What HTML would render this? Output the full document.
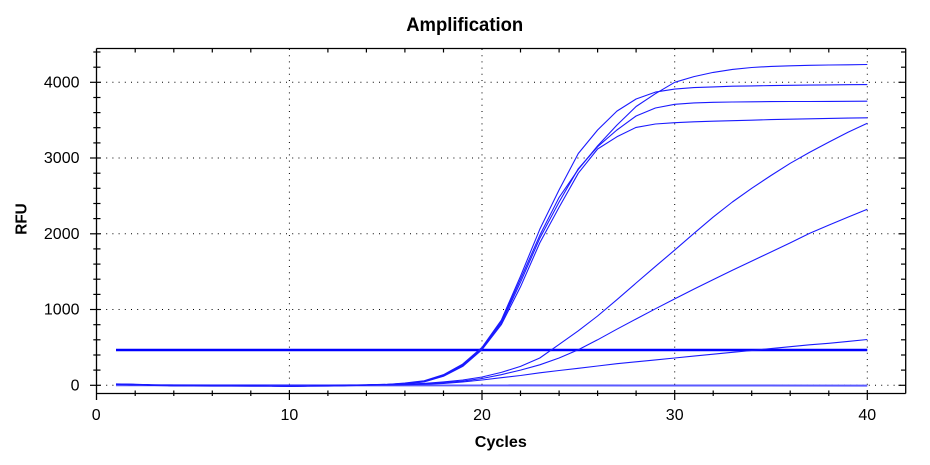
<!DOCTYPE html>
<html>
<head>
<meta charset="utf-8">
<style>
html,body{margin:0;padding:0;background:#fff;}
svg{display:block;}
text{font-family:"Liberation Sans",Arial,sans-serif;fill:#000;}
</style>
</head>
<body>
<svg width="930" height="465" viewBox="0 0 930 465" xmlns="http://www.w3.org/2000/svg">
<rect x="0" y="0" width="930" height="465" fill="#fff"/>

<!-- title -->
<text x="464.7" y="31" font-size="19" font-weight="bold" text-anchor="middle" textLength="117" lengthAdjust="spacingAndGlyphs">Amplification</text>

<!-- grid -->
<g stroke="#000" stroke-width="1" stroke-dasharray="1 5.2" fill="none">
<line x1="289.4" y1="49" x2="289.4" y2="393"/>
<line x1="482" y1="49" x2="482" y2="393"/>
<line x1="674.7" y1="49" x2="674.7" y2="393"/>
<line x1="867.3" y1="49" x2="867.3" y2="393"/>
<line x1="100" y1="385.3" x2="905" y2="385.3"/>
<line x1="100" y1="309.5" x2="905" y2="309.5"/>
<line x1="100" y1="233.8" x2="905" y2="233.8"/>
<line x1="100" y1="158" x2="905" y2="158"/>
<line x1="100" y1="82.3" x2="905" y2="82.3"/>
</g>

<!-- frame -->
<g stroke="#000" stroke-width="1.3" fill="none">
<line x1="96.5" y1="48.5" x2="905.7" y2="48.5"/>
<line x1="905.7" y1="48.5" x2="905.7" y2="393.5"/>
<line x1="96.5" y1="393.5" x2="905.7" y2="393.5"/>
<line x1="96.5" y1="48.5" x2="96.5" y2="400"/>
</g>

<!-- left ticks -->
<g stroke="#000" stroke-width="1.2">
<line x1="90" y1="385.3" x2="100.5" y2="385.3"/>
<line x1="90" y1="309.5" x2="100.5" y2="309.5"/>
<line x1="90" y1="233.8" x2="100.5" y2="233.8"/>
<line x1="90" y1="158" x2="100.5" y2="158"/>
<line x1="90" y1="82.3" x2="100.5" y2="82.3"/>
<line x1="93.3" y1="370.1" x2="100.5" y2="370.1"/>
<line x1="93.3" y1="355" x2="100.5" y2="355"/>
<line x1="93.3" y1="339.8" x2="100.5" y2="339.8"/>
<line x1="93.3" y1="324.7" x2="100.5" y2="324.7"/>
<line x1="93.3" y1="294.4" x2="100.5" y2="294.4"/>
<line x1="93.3" y1="279.2" x2="100.5" y2="279.2"/>
<line x1="93.3" y1="264.1" x2="100.5" y2="264.1"/>
<line x1="93.3" y1="248.9" x2="100.5" y2="248.9"/>
<line x1="93.3" y1="218.6" x2="100.5" y2="218.6"/>
<line x1="93.3" y1="203.5" x2="100.5" y2="203.5"/>
<line x1="93.3" y1="188.3" x2="100.5" y2="188.3"/>
<line x1="93.3" y1="173.2" x2="100.5" y2="173.2"/>
<line x1="93.3" y1="142.9" x2="100.5" y2="142.9"/>
<line x1="93.3" y1="127.7" x2="100.5" y2="127.7"/>
<line x1="93.3" y1="112.6" x2="100.5" y2="112.6"/>
<line x1="93.3" y1="97.5" x2="100.5" y2="97.5"/>
<line x1="93.3" y1="67.2" x2="100.5" y2="67.2"/>
<line x1="93.3" y1="52" x2="100.5" y2="52"/>
</g>

<!-- right ticks -->
<g stroke="#000" stroke-width="1.2">
<line x1="898.5" y1="385.3" x2="905.7" y2="385.3"/>
<line x1="898.5" y1="309.5" x2="905.7" y2="309.5"/>
<line x1="898.5" y1="233.8" x2="905.7" y2="233.8"/>
<line x1="898.5" y1="158" x2="905.7" y2="158"/>
<line x1="898.5" y1="82.3" x2="905.7" y2="82.3"/>
<line x1="901" y1="370.1" x2="905.7" y2="370.1"/>
<line x1="901" y1="355" x2="905.7" y2="355"/>
<line x1="901" y1="339.8" x2="905.7" y2="339.8"/>
<line x1="901" y1="324.7" x2="905.7" y2="324.7"/>
<line x1="901" y1="294.4" x2="905.7" y2="294.4"/>
<line x1="901" y1="279.2" x2="905.7" y2="279.2"/>
<line x1="901" y1="264.1" x2="905.7" y2="264.1"/>
<line x1="901" y1="248.9" x2="905.7" y2="248.9"/>
<line x1="901" y1="218.6" x2="905.7" y2="218.6"/>
<line x1="901" y1="203.5" x2="905.7" y2="203.5"/>
<line x1="901" y1="188.3" x2="905.7" y2="188.3"/>
<line x1="901" y1="173.2" x2="905.7" y2="173.2"/>
<line x1="901" y1="142.9" x2="905.7" y2="142.9"/>
<line x1="901" y1="127.7" x2="905.7" y2="127.7"/>
<line x1="901" y1="112.6" x2="905.7" y2="112.6"/>
<line x1="901" y1="97.5" x2="905.7" y2="97.5"/>
<line x1="901" y1="67.2" x2="905.7" y2="67.2"/>
<line x1="901" y1="52" x2="905.7" y2="52"/>
</g>

<!-- bottom ticks -->
<g stroke="#000" stroke-width="1.2">
<line x1="135.2" y1="390.5" x2="135.2" y2="396"/>
<line x1="173.8" y1="390.5" x2="173.8" y2="396"/>
<line x1="212.3" y1="390.5" x2="212.3" y2="396"/>
<line x1="250.8" y1="390.5" x2="250.8" y2="396"/>
<line x1="289.4" y1="390.5" x2="289.4" y2="400"/>
<line x1="327.9" y1="390.5" x2="327.9" y2="396"/>
<line x1="366.4" y1="390.5" x2="366.4" y2="396"/>
<line x1="404.9" y1="390.5" x2="404.9" y2="396"/>
<line x1="443.5" y1="390.5" x2="443.5" y2="396"/>
<line x1="482" y1="390.5" x2="482" y2="400"/>
<line x1="520.5" y1="390.5" x2="520.5" y2="396"/>
<line x1="559.1" y1="390.5" x2="559.1" y2="396"/>
<line x1="597.6" y1="390.5" x2="597.6" y2="396"/>
<line x1="636.1" y1="390.5" x2="636.1" y2="396"/>
<line x1="674.7" y1="390.5" x2="674.7" y2="400"/>
<line x1="713.2" y1="390.5" x2="713.2" y2="396"/>
<line x1="751.7" y1="390.5" x2="751.7" y2="396"/>
<line x1="790.2" y1="390.5" x2="790.2" y2="396"/>
<line x1="828.8" y1="390.5" x2="828.8" y2="396"/>
<line x1="867.3" y1="390.5" x2="867.3" y2="400"/>
</g>

<!-- top ticks -->
<g stroke="#000" stroke-width="1.2">
<line x1="135.2" y1="48.5" x2="135.2" y2="52.5"/>
<line x1="173.8" y1="48.5" x2="173.8" y2="52.5"/>
<line x1="212.3" y1="48.5" x2="212.3" y2="52.5"/>
<line x1="250.8" y1="48.5" x2="250.8" y2="52.5"/>
<line x1="327.9" y1="48.5" x2="327.9" y2="52.5"/>
<line x1="366.4" y1="48.5" x2="366.4" y2="52.5"/>
<line x1="404.9" y1="48.5" x2="404.9" y2="52.5"/>
<line x1="443.5" y1="48.5" x2="443.5" y2="52.5"/>
<line x1="520.5" y1="48.5" x2="520.5" y2="52.5"/>
<line x1="559.1" y1="48.5" x2="559.1" y2="52.5"/>
<line x1="597.6" y1="48.5" x2="597.6" y2="52.5"/>
<line x1="636.1" y1="48.5" x2="636.1" y2="52.5"/>
<line x1="713.2" y1="48.5" x2="713.2" y2="52.5"/>
<line x1="751.7" y1="48.5" x2="751.7" y2="52.5"/>
<line x1="790.2" y1="48.5" x2="790.2" y2="52.5"/>
<line x1="828.8" y1="48.5" x2="828.8" y2="52.5"/>
</g>

<!-- y labels -->
<g font-size="16" text-anchor="end">
<text x="79.5" y="390.5">0</text>
<text x="79.5" y="314.7">1000</text>
<text x="79.5" y="239">2000</text>
<text x="79.5" y="163.2">3000</text>
<text x="79.5" y="87.5">4000</text>
</g>
<!-- x labels -->
<g font-size="16" text-anchor="middle">
<text x="96.2" y="420">0</text>
<text x="289.4" y="420">10</text>
<text x="482" y="420">20</text>
<text x="674.7" y="420">30</text>
<text x="867.3" y="420">40</text>
</g>
<text x="500.8" y="447" font-size="16" font-weight="bold" text-anchor="middle" textLength="52" lengthAdjust="spacingAndGlyphs">Cycles</text>
<text transform="translate(26.5,219) rotate(-90)" font-size="15.5" font-weight="bold" text-anchor="middle" textLength="31.5" lengthAdjust="spacingAndGlyphs">RFU</text>

<!-- threshold -->
<line x1="116" y1="350" x2="867.3" y2="350" stroke="#0000ff" stroke-width="2.5"/>

<!-- flat curves -->
<g fill="none" stroke-linejoin="round">
<polyline stroke="#5a5aff" stroke-width="2" points="116,385.2 867.3,385.6"/>
<polyline stroke="#0000ff" stroke-width="1.6" points="116,384.2 135.2,384.6 154.5,385.2 173.8,385.6 193,385.7 212.3,385.8 231.6,385.8 250.8,385.9 270.1,386 289.4,386.1 308.6,386 327.9,385.8 347.1,385.5 366.4,385 385.7,384.6"/>
</g>

<!-- amplification curves -->
<g fill="none" stroke="#1a1aff" stroke-width="1.1" stroke-linejoin="round">
<!-- B -->
<polyline points="116,384.2 135.2,384.6 154.5,385.2 173.8,385.6 193,385.7 212.3,385.8 231.6,385.8 250.8,385.9 270.1,386 289.4,386.1 308.6,386 327.9,385.8 347.1,385.5 366.4,385 385.7,384.5 404.9,383 424.2,380.8 443.5,374.7 462.7,364.1 482,347.4 501.3,320.2 520.5,276.2 539.8,229.3 559.1,189.9 578.3,153.5 597.6,130 616.9,111.1 636.1,99 655.4,92.1 674.7,89.1 693.9,87.6 713.2,86.9 732.4,86.2 751.7,85.9 771,85.6 790.2,85.3 809.5,85.1 828.8,84.9 848,84.7 867.3,84.6"/>
<!-- A -->
<polyline points="116,384.2 135.2,384.6 154.5,385.2 173.8,385.6 193,385.7 212.3,385.8 231.6,385.8 250.8,385.9 270.1,386 289.4,386.1 308.6,386 327.9,385.8 347.1,385.5 366.4,385 385.7,384.5 404.9,383.4 424.2,381.1 443.5,375.5 462.7,364.8 482,348.2 501.3,321.7 520.5,279.2 539.8,235.3 559.1,197.4 578.3,169.4 597.6,145.9 616.9,125.1 636.1,106.5 655.4,93.7 674.7,82.3 693.9,76.6 713.2,72.4 732.4,69.4 751.7,67.5 771,66.4 790.2,65.8 809.5,65.3 828.8,65 848,64.8 867.3,64.5"/>
<!-- C -->
<polyline points="116,384.2 135.2,384.6 154.5,385.2 173.8,385.6 193,385.7 212.3,385.8 231.6,385.8 250.8,385.9 270.1,386 289.4,386.1 308.6,386 327.9,385.8 347.1,385.5 366.4,385 385.7,384.6 404.9,383.4 424.2,381.5 443.5,375.8 462.7,365.6 482,348.9 501.3,323.2 520.5,282.3 539.8,238.3 559.1,202 578.3,168.7 597.6,146.7 616.9,130 636.1,116 655.4,108 674.7,104.3 693.9,102.9 713.2,102.3 732.4,102 751.7,101.8 771,101.6 790.2,101.5 809.5,101.5 828.8,101.4 848,101.3 867.3,101.2"/>
<!-- D -->
<polyline points="116,384.2 135.2,384.6 154.5,385.2 173.8,385.6 193,385.7 212.3,385.8 231.6,385.8 250.8,385.9 270.1,386 289.4,386.1 308.6,386 327.9,385.8 347.1,385.5 366.4,385 385.7,384.7 404.9,383.8 424.2,381.9 443.5,376.2 462.7,366.4 482,349.7 501.3,324.7 520.5,286.8 539.8,242.9 559.1,207.3 578.3,173.2 597.6,149 616.9,136.8 636.1,127.4 655.4,124 674.7,122.7 693.9,121.8 713.2,121.2 732.4,120.7 751.7,120.2 771,119.6 790.2,119.2 809.5,118.8 828.8,118.4 848,118.1 867.3,117.8"/>
<!-- E -->
<polyline points="116,384.2 135.2,384.6 154.5,385.2 173.8,385.6 193,385.7 212.3,385.8 231.6,385.8 250.8,385.9 270.1,386 289.4,386.1 308.6,386 327.9,385.8 347.1,385.5 366.4,385 385.7,384.5 404.9,384.2 424.2,383.4 443.5,381.9 462.7,380 482,377 501.3,372.4 520.5,366.4 539.8,358 559.1,344.4 578.3,330.8 597.6,316 616.9,299.7 636.1,283 655.4,266.4 674.7,250.1 693.9,233.4 713.2,217.1 732.4,202 751.7,188.3 771,175.5 790.2,163.3 809.5,152.4 828.8,142.1 848,132.3 867.3,123.2"/>
<!-- F -->
<polyline points="116,384.2 135.2,384.6 154.5,385.2 173.8,385.6 193,385.7 212.3,385.8 231.6,385.8 250.8,385.9 270.1,386 289.4,386.1 308.6,386 327.9,385.8 347.1,385.5 366.4,385 385.7,384.7 404.9,384.4 424.2,383.8 443.5,382.6 462.7,381.1 482,378.5 501.3,374.7 520.5,370.1 539.8,364.8 559.1,358 578.3,349.7 597.6,339.8 616.9,329.2 636.1,319 655.4,308.8 674.7,298.9 693.9,289.1 713.2,279.6 732.4,270.2 751.7,261.1 771,252 790.2,242.9 809.5,233.4 828.8,225.1 848,217.1 867.3,209.3"/>
<!-- G -->
<polyline points="116,384.2 135.2,384.6 154.5,385.2 173.8,385.6 193,385.7 212.3,385.8 231.6,385.8 250.8,385.9 270.1,386 289.4,386.1 308.6,386 327.9,385.8 347.1,385.5 366.4,385 385.7,384.9 404.9,384.7 424.2,384.2 443.5,383.4 462.7,381.9 482,380 501.3,377.7 520.5,375.5 539.8,372.8 559.1,370.5 578.3,368.3 597.6,366 616.9,363.7 636.1,361.8 655.4,359.9 674.7,358 693.9,356.1 713.2,354.2 732.4,352.3 751.7,350.5 771,348.6 790.2,346.7 809.5,344.8 828.8,343.3 848,341.4 867.3,339.5"/>
</g>
</svg>
</body>
</html>
